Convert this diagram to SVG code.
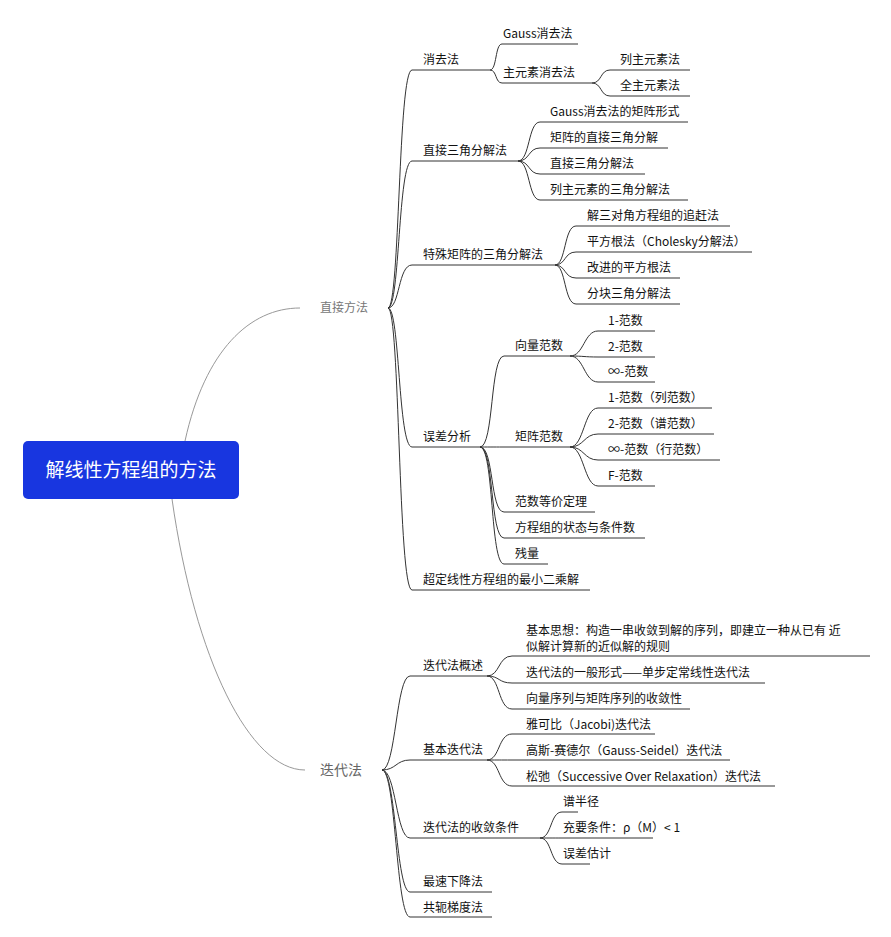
<svg xmlns="http://www.w3.org/2000/svg" width="891" height="937" viewBox="0 0 891 937">
<style>
text{font-family:"Noto Sans CJK SC","Liberation Sans",sans-serif;font-size:12px;fill:#111}
.c{fill:none;stroke:#333;stroke-width:1}
.l{stroke:#999}
.g{fill:#777;font-size:12px}
.g2{fill:#666;font-size:14px}
</style>
<rect width="891" height="937" fill="#fff"/>
<g id="connectors" class="c">
<path class="l" d="M185,441 C205,350 250,308 300,308"/>
<path class="l" d="M172,499 C195,660 250,770 305,770"/>
<path d="M388,308 C400,308 398,70 412,70 H490"/>
<path d="M388,308 C400,308 398,161 412,161 H518"/>
<path d="M388,308 C400,308 398,265 412,265 H555"/>
<path d="M388,308 C400,308 398,447 412,447 H480"/>
<path d="M388,308 C400,308 398,590 412,590 H590"/>
<path d="M490,70 C497,70 495,44 502,44 H578"/>
<path d="M490,70 C497,70 495,83 502,83 H592"/>
<path d="M592,83 C602,83 600,70 610,70 H690"/>
<path d="M592,83 C602,83 600,96 610,96 H690"/>
<path d="M518,161 C530,161 528,122 540,122 H688"/>
<path d="M518,161 C530,161 528,148 540,148 H668"/>
<path d="M518,161 C530,161 528,174 540,174 H645"/>
<path d="M518,161 C530,161 528,200 540,200 H688"/>
<path d="M555,265 C566,265 564,226 576,226 H730"/>
<path d="M555,265 C566,265 564,252 576,252 H752"/>
<path d="M555,265 C566,265 564,278 576,278 H680"/>
<path d="M555,265 C566,265 564,304 576,304 H680"/>
<path d="M480,447 C494,447 490,356 504,356 H570"/>
<path d="M480,447 C494,447 490,447 504,447 H570"/>
<path d="M480,447 C494,447 490,512 504,512 H595"/>
<path d="M480,447 C494,447 490,538 504,538 H645"/>
<path d="M480,447 C494,447 490,564 504,564 H548"/>
<path d="M570,356 C584,356 584,331 598,331 H655"/>
<path d="M570,356 C584,356 584,357 598,357 H655"/>
<path d="M570,356 C584,356 584,382 598,382 H655"/>
<path d="M570,447 C584,447 584,408 598,408 H712"/>
<path d="M570,447 C584,447 584,434 598,434 H714"/>
<path d="M570,447 C584,447 584,460 598,460 H720"/>
<path d="M570,447 C584,447 584,486 598,486 H655"/>
<path d="M382,770 C396,770 396,676 410,676 H487"/>
<path d="M382,770 C396,770 396,760 410,760 H487"/>
<path d="M382,770 C396,770 396,838 410,838 H540"/>
<path d="M382,770 C396,770 396,892 410,892 H492"/>
<path d="M382,770 C396,770 396,917 410,917 H492"/>
<path d="M487,676 C500,676 498,656 512,656 H870"/>
<path d="M487,676 C500,676 498,683 512,683 H765"/>
<path d="M487,676 C500,676 498,709 512,709 H690"/>
<path d="M487,760 C500,760 498,734 512,734 H655"/>
<path d="M487,760 C500,760 498,760 512,760 H730"/>
<path d="M487,760 C500,760 498,786 512,786 H775"/>
<path d="M540,838 C552,838 550,812 562,812 H578"/>
<path d="M540,838 C552,838 550,838 562,838 H653"/>
<path d="M540,838 C552,838 550,864 562,864 H590"/>
</g>
<g id="root">
<rect x="23" y="441" width="216" height="58" rx="5" fill="#1836e0"/>
<text x="131" y="477" text-anchor="middle" style="fill:#fff;font-size:19px">解线性方程组的方法</text>
</g>
<g id="zhijie"><text class="g" x="320" y="312">直接方法</text></g>
<g id="diedai"><text class="g2" x="320" y="775">迭代法</text></g>
<g id="n1"><text x="423" y="64">消去法</text></g>
<g id="n1a"><text x="503" y="38">Gauss消去法</text></g>
<g id="n1b"><text x="503" y="77">主元素消去法</text></g>
<g id="n1b1"><text x="620" y="64">列主元素法</text></g>
<g id="n1b2"><text x="620" y="90">全主元素法</text></g>
<g id="n2"><text x="423" y="155">直接三角分解法</text></g>
<g id="n2a"><text x="550" y="116">Gauss消去法的矩阵形式</text></g>
<g id="n2b"><text x="550" y="142">矩阵的直接三角分解</text></g>
<g id="n2c"><text x="550" y="168">直接三角分解法</text></g>
<g id="n2d"><text x="550" y="194">列主元素的三角分解法</text></g>
<g id="n3"><text x="423" y="259">特殊矩阵的三角分解法</text></g>
<g id="n3a"><text x="587" y="220">解三对角方程组的追赶法</text></g>
<g id="n3b"><text x="587" y="246">平方根法（Cholesky分解法）</text></g>
<g id="n3c"><text x="587" y="272">改进的平方根法</text></g>
<g id="n3d"><text x="587" y="298">分块三角分解法</text></g>
<g id="n4"><text x="423" y="441">误差分析</text></g>
<g id="n4a"><text x="515" y="350">向量范数</text></g>
<g id="n4a1"><text x="608" y="325">1-范数</text></g>
<g id="n4a2"><text x="608" y="351">2-范数</text></g>
<g id="n4a3"><text x="608" y="376">∞-范数</text></g>
<g id="n4b"><text x="515" y="441">矩阵范数</text></g>
<g id="n4b1"><text x="608" y="402">1-范数（列范数）</text></g>
<g id="n4b2"><text x="608" y="428">2-范数（谱范数）</text></g>
<g id="n4b3"><text x="608" y="454">∞-范数（行范数）</text></g>
<g id="n4b4"><text x="608" y="480">F-范数</text></g>
<g id="n4c"><text x="515" y="506">范数等价定理</text></g>
<g id="n4d"><text x="515" y="532">方程组的状态与条件数</text></g>
<g id="n4e"><text x="515" y="558">残量</text></g>
<g id="n5"><text x="423" y="584">超定线性方程组的最小二乘解</text></g>
<g id="m1"><text x="423" y="670">迭代法概述</text></g>
<g id="m1a"><text x="526" y="635">基本思想：构造一串收敛到解的序列，即建立一种从已有  近</text><text x="526" y="651">似解计算新的近似解的规则</text></g>
<g id="m1b"><text x="526" y="677">迭代法的一般形式——单步定常线性迭代法</text></g>
<g id="m1c"><text x="526" y="703">向量序列与矩阵序列的收敛性</text></g>
<g id="m2"><text x="423" y="754">基本迭代法</text></g>
<g id="m2a"><text x="526" y="729">雅可比（Jacobi)迭代法</text></g>
<g id="m2b"><text x="526" y="755">高斯-赛德尔（Gauss-Seidel）迭代法</text></g>
<g id="m2c"><text x="526" y="781">松弛（Successive Over Relaxation）迭代法</text></g>
<g id="m3"><text x="423" y="832">迭代法的收敛条件</text></g>
<g id="m3a"><text x="563" y="806">谱半径</text></g>
<g id="m3b"><text x="563" y="832">充要条件：ρ（M）&lt; 1</text></g>
<g id="m3c"><text x="563" y="858">误差估计</text></g>
<g id="m4"><text x="423" y="886">最速下降法</text></g>
<g id="m5"><text x="423" y="912">共轭梯度法</text></g>
</svg>
